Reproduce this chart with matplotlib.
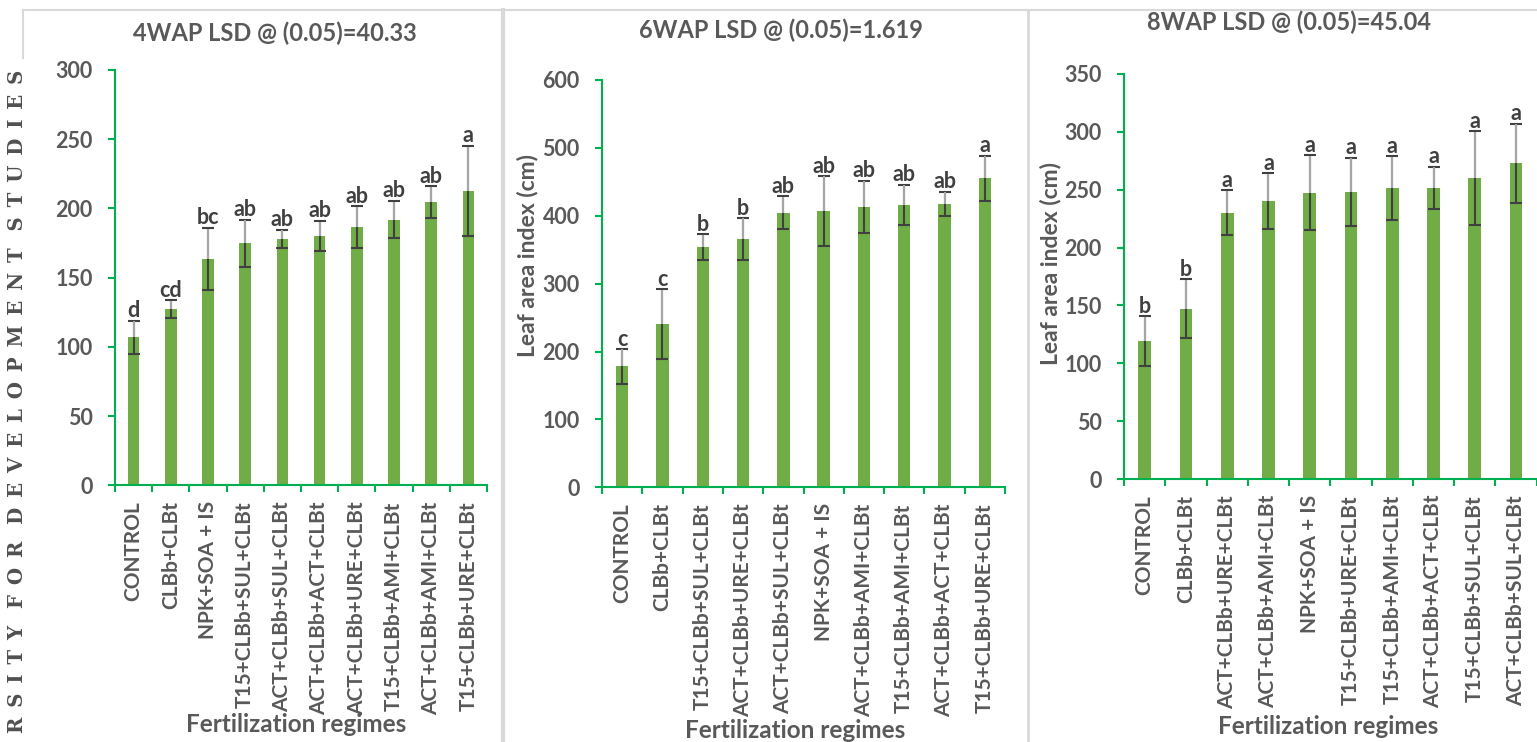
"""Leaf area index of maize under fertilization regimes at 4, 6 and 8 WAP."""

import matplotlib

matplotlib.use("Agg")
import matplotlib.pyplot as plt
import numpy as np
from matplotlib.lines import Line2D

plt.rcParams["font.family"] = ["Lato", "DejaVu Sans"]
plt.rcParams["font.weight"] = "bold"
plt.rcParams["axes.titleweight"] = "bold"
plt.rcParams["axes.labelweight"] = "bold"

TEXT_GREY = "#595959"
LETTER_GREY = "#404040"
BAR_GREEN = "#70AD47"
AXIS_GREEN = "#00B050"
ERR_DARK = "#404040"
ERR_LIGHT = "#a6a6a6"
BORDER_GREY = "#d9d9d9"

# ---- data ---------------------------------------------------------------
cats_4wap = [
    "CONTROL", "CLBb+CLBt", "NPK+SOA + IS", "T15+CLBb+SUL+CLBt",
    "ACT+CLBb+SUL+CLBt", "ACT+CLBb+ACT+CLBt", "ACT+CLBb+URE+CLBt",
    "T15+CLBb+AMI+CLBt", "ACT+CLBb+AMI+CLBt", "T15+CLBb+URE+CLBt",
]
lai_4wap = [107, 127, 163.5, 175, 178, 180, 186.5, 192, 204.5, 212.5]
err_4wap = [12, 6.5, 22.5, 17, 6.7, 11, 15, 13.4, 11.6, 32.7]
letters_4wap = ["d", "cd", "bc", "ab", "ab", "ab", "ab", "ab", "ab", "a"]

cats_6wap = [
    "CONTROL", "CLBb+CLBt", "T15+CLBb+SUL+CLBt", "ACT+CLBb+URE+CLBt",
    "ACT+CLBb+SUL+CLBt", "NPK+SOA + IS", "ACT+CLBb+AMI+CLBt",
    "T15+CLBb+AMI+CLBt", "ACT+CLBb+ACT+CLBt", "T15+CLBb+URE+CLBt",
]
lai_6wap = [178, 240, 353.5, 366, 404.5, 407, 413, 416, 417.5, 455]
err_6wap = [25.5, 51.5, 19, 30.5, 24, 51.5, 38.8, 29.8, 18, 33.5]
letters_6wap = ["c", "c", "b", "b", "ab", "ab", "ab", "ab", "ab", "a"]

cats_8wap = [
    "CONTROL", "CLBb+CLBt", "ACT+CLBb+URE+CLBt", "ACT+CLBb+AMI+CLBt",
    "NPK+SOA + IS", "T15+CLBb+URE+CLBt", "T15+CLBb+AMI+CLBt",
    "ACT+CLBb+ACT+CLBt", "T15+CLBb+SUL+CLBt", "ACT+CLBb+SUL+CLBt",
]
lai_8wap = [119.3, 147, 230, 240, 247.4, 248.3, 251.5, 251.5, 260, 273]
err_8wap = [21.5, 25.5, 19.5, 24.2, 32.5, 29.5, 27.5, 18.2, 40.5, 34.2]
letters_8wap = ["b", "b", "a", "a", "a", "a", "a", "a", "a", "a"]

titles = [
    "4WAP LSD @ (0.05)=40.33",
    "6WAP LSD @ (0.05)=1.619",
    "8WAP LSD @ (0.05)=45.04",
]
y_max = [300, 600, 350]
y_step = [50, 100, 50]

# ---- layout (figure fractions / axes fractions) -------------------------
W, H = 1537, 742
AX_RECTS = [
    (115 / W, 1 - 485.3 / H, 372 / W, 415.3 / H),
    (602 / W, 1 - 487.3 / H, 403 / W, 407.3 / H),
    (1124 / W, 1 - 479 / H, 412.7 / W, 405 / H),
]
TITLE_POS = [(0.431, 1.068), (0.445, 1.102), (0.401, 1.106)]
XLABEL_POS = [(0.487, -0.577), (0.480, -0.596), (0.494, -0.610)]
YLABEL_POS = [None, (-0.186, 0.568), (-0.179, 0.533)]


def draw_panel(ax, cats, vals, errs, letters, idx):
    x = np.arange(len(cats))
    vals = np.asarray(vals, dtype=float)
    errs = np.asarray(errs, dtype=float)

    ax.bar(x, vals, width=0.31, color=BAR_GREEN, zorder=2)
    ax.errorbar(x, vals, yerr=errs, fmt="none", ecolor=ERR_DARK,
                elinewidth=1.5, capsize=4.2, capthick=1.5, zorder=3)
    # the part of the whisker drawn over the white background reads lighter
    ax.vlines(x, vals, vals + errs - 0.5, color=ERR_LIGHT, lw=1.5, zorder=3.5)

    for xi, top, lab in zip(x, vals + errs, letters):
        ax.annotate(lab, (xi, top), xytext=(0, 2.5), textcoords="offset points",
                    ha="center", va="baseline", fontsize=15.5,
                    fontweight="bold", color=LETTER_GREY, zorder=4)

    ax.set_xlim(-0.5, len(cats) - 0.5)
    ax.set_ylim(0, y_max[idx])
    ax.set_yticks(np.arange(0, y_max[idx] + 1, y_step[idx]))
    ax.set_xticks(x)
    ax.set_xticklabels(cats, rotation=90, fontweight="bold")
    ax.set_xticks(np.arange(-0.5, len(cats)), minor=True)
    for lbl in ax.get_yticklabels():
        lbl.set_fontweight("bold")

    ax.tick_params(axis="x", which="major", length=0, pad=11.5,
                   labelsize=15, labelcolor=TEXT_GREY)
    ax.tick_params(axis="x", which="minor", length=5, width=1.5,
                   color=AXIS_GREEN, direction="out")
    ax.tick_params(axis="y", length=5, width=1.5, color=AXIS_GREEN,
                   direction="out", pad=11, labelsize=15.5, labelcolor=TEXT_GREY)

    for side in ("top", "right"):
        ax.spines[side].set_visible(False)
    for side in ("left", "bottom"):
        ax.spines[side].set_color(AXIS_GREEN)
        ax.spines[side].set_linewidth(1.5)

    tx, ty = TITLE_POS[idx]
    ax.set_title(titles[idx], fontsize=17, fontweight="bold", color=TEXT_GREY,
                 x=tx, y=ty, va="center")

    ax.set_xlabel("Fertilization regimes", fontsize=17.5, fontweight="bold",
                  color=TEXT_GREY)
    ax.xaxis.set_label_coords(*XLABEL_POS[idx])
    ax.xaxis.label.set_verticalalignment("center")

    if YLABEL_POS[idx] is not None:
        ax.set_ylabel("Leaf area index (cm)", fontsize=16.5, fontweight="bold",
                      color=TEXT_GREY)
        ax.yaxis.set_label_coords(*YLABEL_POS[idx])
        ax.yaxis.label.set_verticalalignment("center")


fig = plt.figure(figsize=(W / 100, H / 100), dpi=100)

panels = [
    (cats_4wap, lai_4wap, err_4wap, letters_4wap),
    (cats_6wap, lai_6wap, err_6wap, letters_6wap),
    (cats_8wap, lai_8wap, err_8wap, letters_8wap),
]
for i, (cats, vals, errs, letters) in enumerate(panels):
    ax = fig.add_axes(AX_RECTS[i])
    ax.set_facecolor("none")
    draw_panel(ax, cats, vals, errs, letters, i)


# chart-area borders as pasted in the document
def fig_line(x0, y0, x1, y1, lw):
    fig.add_artist(Line2D([x0 / W, x1 / W], [1 - y0 / H, 1 - y1 / H],
                          transform=fig.transFigure, color=BORDER_GREY,
                          lw=lw, zorder=0))


fig_line(22.5, 10, W, 10, 1.5)
fig_line(22.5, 10, 22.5, 58, 1.5)
fig_line(502.5, 10, 502.5, H, 3.0)
fig_line(1027.5, 10, 1027.5, H, 2.0)

# scanned watermark running up the left margin: wide letter spacing,
# font size fitted so that it reaches the page foot
gap = "\u2002"
mark = (gap + " ").join(gap.join(w) for w in "RSITY FOR DEVELOPMENT STUDIES".split())
wm = fig.text(17 / W, 1 - 70 / H, mark, rotation=90, ha="center", va="top",
              family="DejaVu Serif", fontweight="bold", fontsize=14,
              color="#505050")
fig.canvas.draw()
span = wm.get_window_extent().height
wm.set_fontsize(14 * (738 - 70) / span)

fig.savefig("out.png", dpi=100)
